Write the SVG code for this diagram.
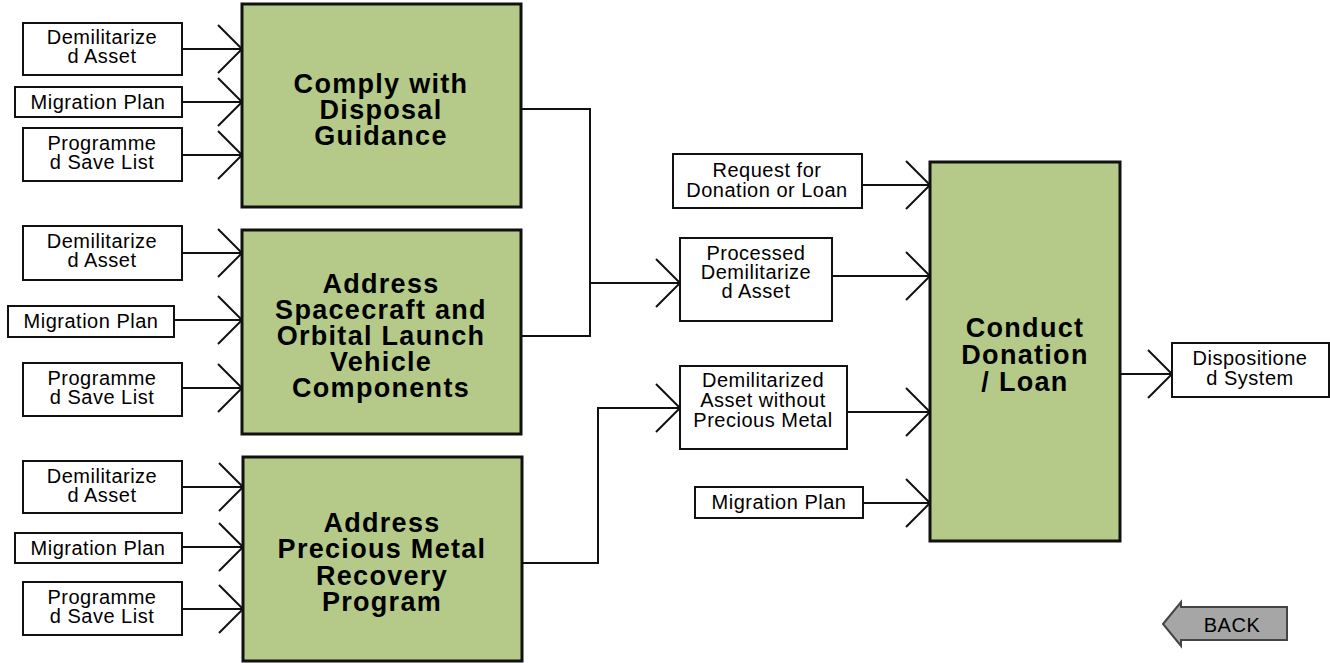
<svg xmlns="http://www.w3.org/2000/svg" width="1330" height="663" viewBox="0 0 1330 663">
<style>
.g{fill:#b5ca88;stroke:#111;stroke-width:3}
.b{fill:#fff;stroke:#111;stroke-width:2}
.t{font-family:"Liberation Sans",Arial,sans-serif;font-size:20px;letter-spacing:0.5px;fill:#000;text-anchor:middle}
.h{font-family:"Liberation Sans",Arial,sans-serif;font-size:27px;letter-spacing:1.3px;font-weight:bold;fill:#000;text-anchor:middle}
.c{fill:none;stroke:#111;stroke-width:2}
</style>
<defs>
<marker id="a" markerUnits="userSpaceOnUse" markerWidth="30" markerHeight="52" viewBox="-26 -26 30 52" refX="0" refY="0" orient="auto">
<path d="M-24,-24 L0,0 L-24,24" fill="none" stroke="#111" stroke-width="2"/>
</marker>
</defs>
<rect width="1330" height="663" fill="#fff"/>
<g id="connectors" class="c" marker-end="url(#a)">
<path d="M182,49 H242"/>
<path d="M182,102 H242"/>
<path d="M182,155 H242"/>
<path d="M182,253 H242"/>
<path d="M174,320 H242"/>
<path d="M182,388 H242"/>
<path d="M182,487 H243"/>
<path d="M182,547 H243"/>
<path d="M182,609 H243"/>
<path d="M521,109 H590 V336 H521" marker-end="none"/>
<path d="M590,283 H680"/>
<path d="M522,563 H598 V408 H680"/>
<path d="M862,185 H930"/>
<path d="M832,276 H930"/>
<path d="M847,412 H930"/>
<path d="M863,503 H930"/>
<path d="M1120,374 H1172"/>
</g>
<g id="in1a"><rect class="b" x="23" y="23" width="159" height="52"/><text class="t" x="102" y="44">Demilitarize</text><text class="t" x="102" y="63">d Asset</text></g>
<g id="in1b"><rect class="b" x="15" y="87" width="167" height="30"/><text class="t" x="98" y="109">Migration Plan</text></g>
<g id="in1c"><rect class="b" x="23" y="128" width="159" height="53"/><text class="t" x="102" y="150">Programme</text><text class="t" x="102" y="169">d Save List</text></g>
<g id="in2a"><rect class="b" x="23" y="226" width="159" height="54"/><text class="t" x="102" y="248">Demilitarize</text><text class="t" x="102" y="267">d Asset</text></g>
<g id="in2b"><rect class="b" x="8" y="306" width="166" height="31"/><text class="t" x="91" y="328">Migration Plan</text></g>
<g id="in2c"><rect class="b" x="23" y="363" width="159" height="53"/><text class="t" x="102" y="385">Programme</text><text class="t" x="102" y="404">d Save List</text></g>
<g id="in3a"><rect class="b" x="23" y="461" width="159" height="52"/><text class="t" x="102" y="483">Demilitarize</text><text class="t" x="102" y="502">d Asset</text></g>
<g id="in3b"><rect class="b" x="15" y="533" width="167" height="30"/><text class="t" x="98" y="555">Migration Plan</text></g>
<g id="in3c"><rect class="b" x="23" y="582" width="159" height="53"/><text class="t" x="102" y="604">Programme</text><text class="t" x="102" y="623">d Save List</text></g>
<g id="comply"><rect class="g" x="242" y="4" width="279" height="203"/><text class="h" x="381" y="93">Comply with</text><text class="h" x="381" y="119">Disposal</text><text class="h" x="381" y="145">Guidance</text></g>
<g id="spacecraft"><rect class="g" x="242" y="230" width="279" height="204"/><text class="h" x="381" y="293">Address</text><text class="h" x="381" y="319">Spacecraft and</text><text class="h" x="381" y="345">Orbital Launch</text><text class="h" x="381" y="371">Vehicle</text><text class="h" x="381" y="397">Components</text></g>
<g id="precious"><rect class="g" x="243" y="457" width="279" height="204"/><text class="h" x="382" y="532">Address</text><text class="h" x="382" y="558">Precious Metal</text><text class="h" x="382" y="585">Recovery</text><text class="h" x="382" y="611">Program</text></g>
<g id="request"><rect class="b" x="673" y="154" width="189" height="54"/><text class="t" x="767" y="177">Request for</text><text class="t" x="767" y="197">Donation or Loan</text></g>
<g id="processed"><rect class="b" x="680" y="238" width="152" height="83"/><text class="t" x="756" y="260">Processed</text><text class="t" x="756" y="279">Demilitarize</text><text class="t" x="756" y="298">d Asset</text></g>
<g id="withoutpm"><rect class="b" x="680" y="366" width="167" height="83"/><text class="t" x="763" y="387">Demilitarized</text><text class="t" x="763" y="407">Asset without</text><text class="t" x="763" y="427">Precious Metal</text></g>
<g id="mp4"><rect class="b" x="695" y="487" width="168" height="31"/><text class="t" x="779" y="509">Migration Plan</text></g>
<g id="conduct"><rect class="g" x="930" y="162" width="190" height="379"/><text class="h" x="1025" y="337">Conduct</text><text class="h" x="1025" y="364">Donation</text><text class="h" x="1025" y="391">/ Loan</text></g>
<g id="dispositioned"><rect class="b" x="1172" y="343" width="157" height="54"/><text class="t" x="1250" y="365">Dispositione</text><text class="t" x="1250" y="385">d System</text></g>
<g id="back"><path d="M1163,624 L1181,602 V607 H1287 V640 H1181 V646 Z" fill="#a6a6a6" stroke="#444" stroke-width="2"/><text class="t" x="1232" y="632">BACK</text></g>
</svg>
